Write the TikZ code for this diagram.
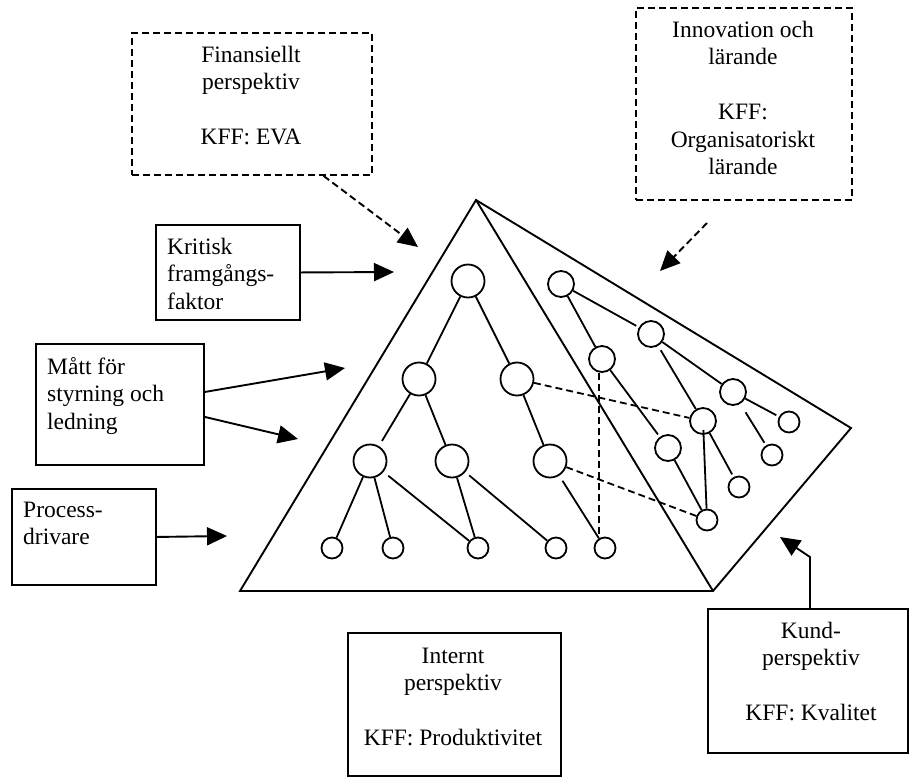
\documentclass[tikz,border=0pt]{standalone}
\usepackage{fontspec}
\setmainfont{Liberation Serif}
\usetikzlibrary{arrows.meta,calc}

% body text of the boxes
\newcommand\boxtext{\fontsize{23.5}{27.5}\selectfont}

\tikzset{
  box/.style={draw, line width=1.9pt, inner sep=0pt, anchor=north west},
  dbox/.style={box, dash pattern=on 7pt off 4pt},
  ctext/.style={inner sep=0pt, font=\boxtext, align=center, anchor=north},
  ltext/.style={inner sep=0pt, font=\boxtext, align=left, anchor=north west},
  bignode/.style={circle, draw, line width=1.8pt, minimum size=33pt, inner sep=0pt},
  midnode/.style={circle, draw, line width=1.8pt, minimum size=26pt, inner sep=0pt},
  smallnode/.style={circle, draw, line width=1.8pt, minimum size=21pt, inner sep=0pt},
  link/.style={line width=1.8pt},
  dlink/.style={line width=1.8pt, dash pattern=on 7pt off 4pt},
  arr/.style={line width=1.9pt, -{Triangle[length=20pt,width=18pt]}},
  darr/.style={arr, dash pattern=on 7pt off 4pt},
}

\begin{document}
\begin{tikzpicture}[x=1pt,y=-1pt]
\useasboundingbox (0,0) rectangle (909,777);

% ---- pyramid outline ----
\coordinate (apex) at (476,200);
\coordinate (bl) at (240,591);
\coordinate (br) at (713,591);
\coordinate (rv) at (851,428);
\draw[line width=1.9pt] (apex) -- (bl) -- (br) -- (rv) -- cycle;
\draw[line width=1.9pt] (apex) -- (br);

% ---- tree in the front face ----
\node[bignode] (T)   at (468,281) {};
\node[bignode] (L2a) at (419,379) {};
\node[bignode] (L2b) at (517,379) {};
\node[bignode] (L3a) at (370,461) {};
\node[bignode] (L3b) at (452,461) {};
\node[bignode] (L3c) at (550,461) {};
\node[smallnode] (s1) at (332,548) {};
\node[smallnode] (s2) at (393,548) {};
\node[smallnode] (s3) at (478,548) {};
\node[smallnode] (s4) at (556,548) {};
\node[smallnode] (s5) at (605,548) {};

\draw[link] (T) -- (L2a);
\draw[link] (T) -- (L2b);
\draw[link, shorten >=6pt] (L2a) -- (L3a);
\draw[link] (L2a) -- (L3b);
\draw[link] (L2b) -- (L3c);
\draw[link] (L3a) -- (s1);
\draw[link] (L3a) -- (s2);
\draw[link, shorten <=6pt] (L3a) -- (s3);
\draw[link] (L3b) -- (s3);
\draw[link, shorten <=5pt] (L3b) -- (s4);
\draw[link, shorten <=6pt] (L3c) -- (s5);

% ---- tree in the side face ----
\node[midnode] (Ra) at (561,284) {};
\node[midnode] (Rb) at (602,359) {};
\node[midnode] (Rc) at (651,334) {};
\node[midnode] (Rd) at (733,392) {};
\node[midnode] (Re) at (703,421) {};
\node[midnode] (Rf) at (668,448) {};
\node[smallnode] (Rg) at (789,422) {};
\node[smallnode] (Rh) at (772,455) {};
\node[smallnode] (Ri) at (739,487) {};
\node[smallnode] (Rj) at (707,520) {};

\draw[link, shorten >=3pt] (Ra) -- (Rc);
\draw[link] (Ra) -- (Rb);
\draw[link, shorten <=5pt] (Rc) -- (Re);
\draw[link] (Rc) -- (Rd);
\draw[link, shorten >=3pt] (Rd) -- (Rg);
\draw[link, shorten <=10pt, shorten >=3pt] (Rd) -- (Rh);
\draw[link, shorten >=3pt] (Rb) -- (Rf);
\draw[link] (Rf) -- (Rj);
\draw[link, shorten <=9pt] (Re.center) -- (Rj);
\draw[link, shorten >=3pt] (Re) -- (Ri);

% ---- cross links ----
\draw[dlink] (L2b) -- (Re);
\draw[dlink] (L3c) -- (Rj);
\draw[dlink] ([xshift=-3pt]Rb.south) -- ([xshift=-3pt]Rb.south |- s5.north);

% ---- perspective boxes ----
\node[dbox, minimum width=240pt, minimum height=142pt] (fin) at (131,32) {};
\node[ctext] at (251,42.75) {\strut Finansiellt\\perspektiv\\[27.5pt]KFF: EVA};

\node[dbox, minimum width=216pt, minimum height=192pt] (innov) at (635,7) {};
\node[ctext] at (743,18) {\strut Innovation och\\lärande\\[27.5pt]KFF:\\Organisatoriskt\\lärande};

\node[box, minimum width=213pt, minimum height=143pt] (intern) at (347,632) {};
\node[ctext] at (453,643.75) {\strut Internt\\perspektiv\\[27.5pt]KFF: Produktivitet};

\node[box, minimum width=200pt, minimum height=144pt] (kund) at (707,608) {};
\node[ctext] at (811,618.75) {\strut Kund-\\perspektiv\\[27.5pt]KFF: Kvalitet};

% ---- concept boxes ----
\node[box, minimum width=144pt, minimum height=95pt] (krit) at (155,224) {};
\node[ltext] at (167,234.75) {\strut Kritisk\\framgångs-\\faktor};

\node[box, minimum width=168pt, minimum height=121pt] (matt) at (35,343) {};
\node[ltext] at (47,354.75) {\strut Mått för\\styrning och\\ledning};

\node[box, minimum width=144pt, minimum height=96pt] (proc) at (11,488) {};
\node[ltext] at (23,497.75) {\strut Process-\\drivare};

% ---- arrows ----
\coordinate (finTip) at (418,247);
\coordinate (innovFrom) at (707,223);
\coordinate (innovTip) at (660,271);
\coordinate (kritTip) at (394,272);
\coordinate (mattTipA) at (345,368);
\coordinate (mattTipB) at (298,439);
\coordinate (procTip) at (227,536);
\coordinate (kundBend) at (810,557);
\coordinate (kundTip) at (780,537);

\draw[darr] ($(fin.south west)!0.796!(fin.south east)$) -- (finTip);
\draw[darr] (innovFrom) -- (innovTip);
\draw[arr] (krit.east) -- (kritTip);
\draw[arr] ([yshift=12.5pt]matt.east) -- (mattTipA);
\draw[arr] ([yshift=-12.5pt]matt.east) -- (mattTipB);
\draw[arr] (proc.east) -- (procTip);
\draw[arr] (kundBend |- kund.north) -- (kundBend) -- (kundTip);
\end{tikzpicture}
\end{document}
